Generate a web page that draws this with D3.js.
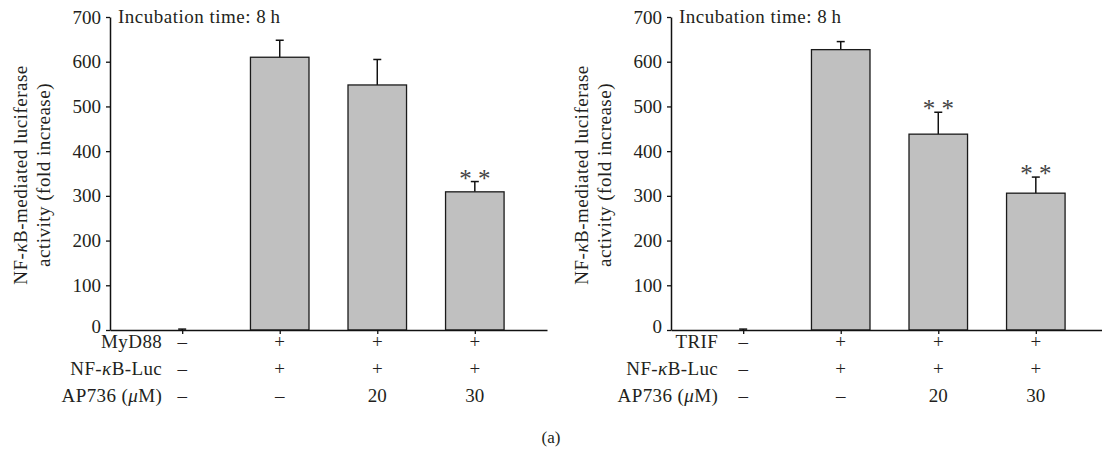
<!DOCTYPE html>
<html>
<head>
<meta charset="utf-8">
<script src="https://cdn.jsdelivr.net/npm/d3@7"></script>
<style>
	body { margin: 0; background: #fff; }
	svg text { font-family: 'Liberation Serif', 'Times New Roman', serif; fill: #231f20; }
</style>
</head>
<body>
<div id="chart"></div>
<script>
// values (fold increase)
const conditions  = ['c1', 'c2', 'c3', 'c4'];
const myd88Values = [0, 610, 548, 309];
const myd88Errors = [2, 38, 57, 23];
const myd88Stars  = ['', '', '', '**'];
const trifValues  = [0, 627, 438, 306];
const trifErrors  = [2, 18, 49, 36];
const trifStars   = ['', '', '**', '**'];
const yTicks      = [0, 100, 200, 300, 400, 500, 600, 700];
const plusMinus   = ['–', '+', '+', '+'];
const ap736Doses  = ['–', '–', '20', '30'];

let width  = 1102,
	height = 452,
	fs     = 19;

let svg = d3.select('#chart')
	.append('svg')
	.attr('width', width)
	.attr('height', height);

let y = d3.scaleLinear()
	.domain([0, 700])
	.range([330, 17]);

function drawPanel(cfg){
	let g = svg.append('g')
		.attr('transform', 'translate(' + cfg.left + ',0)');

	let x = d3.scalePoint()
		.domain(conditions)
		.range([0, 437])
		.padding(0.74);

	let bw = x.step() * 0.6;

	let data = conditions.map(function(c, i){
		return {c: c, v: cfg.values[i], e: cfg.errors[i], s: cfg.stars[i]};
	});

	// error bars (upper only)
	let eb = g.selectAll('.err').data(data).enter().append('g').attr('class', 'err');
	eb.append('line')
		.attr('x1', d => x(d.c)).attr('x2', d => x(d.c))
		.attr('y1', d => y(d.v)).attr('y2', d => y(d.v + d.e))
		.attr('stroke', '#111').attr('stroke-width', 1.5);
	eb.append('line')
		.attr('x1', d => x(d.c) - 4).attr('x2', d => x(d.c) + 4)
		.attr('y1', d => y(d.v + d.e)).attr('y2', d => y(d.v + d.e))
		.attr('stroke', '#111').attr('stroke-width', 1.5);

	g.selectAll('.bar').data(data.filter(d => d.v > 0)).enter().append('rect')
		.attr('class', 'bar')
		.attr('x', d => x(d.c) - bw / 2)
		.attr('width', bw)
		.attr('y', d => y(d.v))
		.attr('height', d => y(0) - y(d.v))
		.attr('fill', '#c0c0c0')
		.attr('stroke', '#1a1a1a')
		.attr('stroke-width', 1.3);

	g.selectAll('.star').data(data.filter(d => d.s)).enter().append('text')
		.attr('x', d => x(d.c))
		.attr('y', d => y(d.v + d.e) + 5)
		.attr('text-anchor', 'middle')
		.attr('font-size', 25)
		.style('fill', '#444')
		.text(d => d.s.split('').join(' '));

	// axes
	let yAxis = g.append('g')
		.call(d3.axisLeft(y).tickValues(yTicks).tickSize(4).tickSizeOuter(0).tickPadding(5));
	let xAxis = g.append('g')
		.attr('transform', 'translate(0,' + y(0) + ')')
		.call(d3.axisBottom(x).tickSize(4).tickSizeOuter(0).tickFormat(''));

	[yAxis, xAxis].forEach(function(a){
		a.select('.domain').attr('stroke', '#111').attr('stroke-width', 1.5);
		a.selectAll('.tick line').attr('stroke', '#111').attr('stroke-width', 1.3);
		a.selectAll('.tick text')
			.attr('font-size', fs)
			.attr('font-family', null)
			.attr('fill', null);
	});
	yAxis.select('.tick:first-of-type text').attr('dy', '0.15em');

	g.append('text')
		.attr('x', 8)
		.attr('y', 23)
		.attr('font-size', fs)
		.style('letter-spacing', '0.5px')
		.text('Incubation time: 8\u2009h');

	// y title
	let yt = g.append('text')
		.attr('transform', 'translate(-90,175) rotate(-90)')
		.attr('text-anchor', 'middle')
		.attr('font-size', fs)
		.style('letter-spacing', '0.5px');
	let l1 = yt.append('tspan').attr('x', 0).attr('dy', '0.35em');
	l1.append('tspan').text('NF-');
	l1.append('tspan').style('font-style', 'italic').text('κ');
	l1.append('tspan').text('B-mediated luciferase');
	yt.append('tspan').attr('x', 0).attr('dy', 23).text('activity (fold increase)');

	// condition table under the axis
	let rows = [
		{label: [[cfg.first, false]], cells: plusMinus, yy: 348},
		{label: [['NF-', false], ['κ', true], ['B-Luc', false]], cells: plusMinus, yy: 375},
		{label: [['AP736 (', false], ['μ', true], ['M)', false]], cells: ap736Doses, yy: 402}
	];
	rows.forEach(function(r){
		let t = g.append('text')
			.attr('x', x(conditions[0]) - cfg.gap)
			.attr('y', r.yy)
			.attr('text-anchor', 'end')
			.attr('font-size', fs)
			.style('letter-spacing', '0.4px');
		r.label.forEach(function(p){
			t.append('tspan').style('font-style', p[1] ? 'italic' : null).text(p[0]);
		});
		g.selectAll(null).data(r.cells).enter().append('text')
			.attr('x', (d, i) => x(conditions[i]))
			.attr('y', r.yy)
			.attr('text-anchor', 'middle')
			.attr('font-size', fs)
			.text(d => d);
	});
}

drawPanel({left: 110, values: myd88Values, errors: myd88Errors, stars: myd88Stars, first: 'MyD88', gap: 20});
drawPanel({left: 671, values: trifValues, errors: trifErrors, stars: trifStars, first: 'TRIF', gap: 25});

svg.append('text')
	.attr('x', 551)
	.attr('y', 443)
	.attr('text-anchor', 'middle')
	.attr('font-size', 17)
	.text('(a)');
</script>
</body>
</html>
